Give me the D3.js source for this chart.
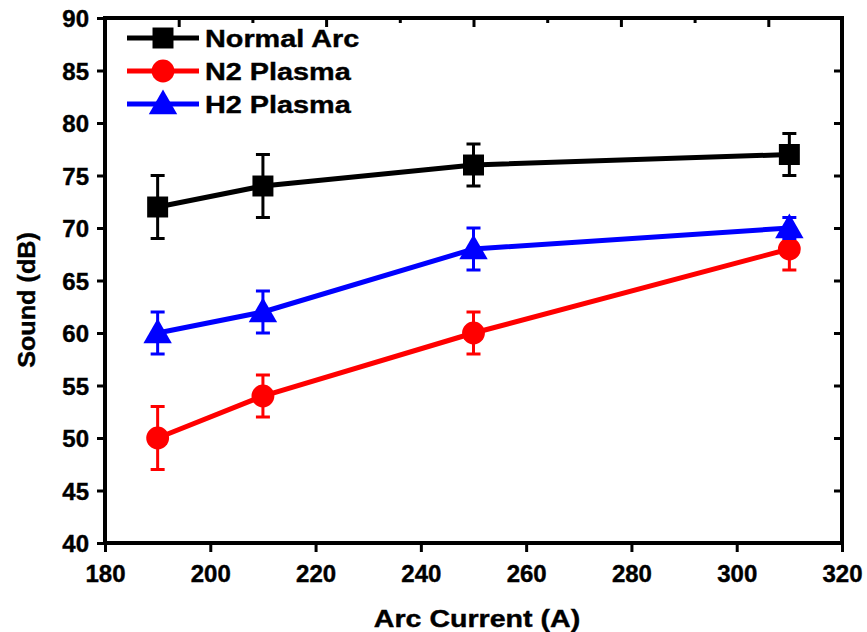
<!DOCTYPE html>
<html>
<head>
<meta charset="utf-8">
<script src="https://cdn.jsdelivr.net/npm/d3@7"></script>
<style>
  body { margin: 0; background: #fff; }
  text { font-family: Arial, "Liberation Sans", sans-serif; font-weight: bold; stroke: #000; stroke-width: 0.4px; }
</style>
</head>
<body>
<svg width="867" height="632"></svg>
<script>
let width = 867;
let height = 632;

// data
let currents = [190, 210, 250, 310];
let normalArc = [72, 74, 76, 77];
let normalArcErr = [3, 3, 2, 2];
let n2Plasma = [50, 54, 60, 68];
let n2PlasmaErr = [3, 2, 2, 2];
let h2Plasma = [60, 62, 68, 70];
let h2PlasmaErr = [2, 2, 2, 1];
let xTicks = [180, 200, 220, 240, 260, 280, 300, 320];
let yTicks = [40, 45, 50, 55, 60, 65, 70, 75, 80, 85, 90];

let series = [
  { name: 'Normal Arc', values: normalArc, err: normalArcErr, color: '#000000', shape: 'square' },
  { name: 'N2 Plasma', values: n2Plasma, err: n2PlasmaErr, color: '#ff0000', shape: 'circle' },
  { name: 'H2 Plasma', values: h2Plasma, err: h2PlasmaErr, color: '#0000ff', shape: 'triangle' },
];

let pLeft = 105, pRight = 842, pTop = 18, pBottom = 543;

let x = d3.scaleLinear().domain([180, 320]).range([pLeft, pRight]);
let y = d3.scaleLinear().domain([40, 90]).range([pBottom, pTop]);
// the top frame carries its own tick spacing
let xTop = d3.scaleLinear().domain([0, 10]).range([pLeft, pRight]);

let svg = d3.select('svg');

function symbolFor(shape) {
  if (shape === 'square') return d3.symbol().type(d3.symbolSquare).size(440);
  if (shape === 'circle') return d3.symbol().type(d3.symbolCircle).size(410);
  return d3.symbol().type(d3.symbolTriangle).size(350);
}

// stretch glyphs sideways, the original text is wider than plain Arial
function widen(sel, k) {
  sel.each(function() {
    let w = this.getComputedTextLength();
    d3.select(this).attr('textLength', w * k).attr('lengthAdjust', 'spacingAndGlyphs');
  });
}

// series
let line = d3.line().x((d, i) => x(currents[i])).y(d => y(d));

series.forEach(s => {
  let g = svg.append('g').attr('class', 'series');
  g.append('path')
    .attr('d', line(s.values))
    .attr('fill', 'none')
    .attr('stroke', s.color)
    .attr('stroke-width', 5)
    ;
  let pts = currents.map((c, i) => ({ c: c, v: s.values[i], e: s.err[i] }));
  g.selectAll('.err')
    .data(pts)
    .enter()
      .append('path')
      .attr('class', 'err')
      .attr('fill', 'none')
      .attr('stroke', s.color)
      .attr('stroke-width', 3)
      .attr('d', d => {
        let cx = x(d.c), y1 = y(d.v + d.e), y2 = y(d.v - d.e);
        return `M${cx},${y1}V${y2}M${cx - 7},${y1}H${cx + 7}M${cx - 7},${y2}H${cx + 7}`;
      })
    ;
  g.selectAll('.mark')
    .data(pts)
    .enter()
      .append('path')
      .attr('class', 'mark')
      .attr('fill', s.color)
      .attr('d', symbolFor(s.shape))
      .attr('transform', d => `translate(${x(d.c)},${y(d.v) + (s.shape === 'triangle' ? 2 : 0)})`)
    ;
});

// frame and axes
let axisStyle = g => {
  g.select('.domain').remove();
  g.selectAll('line').attr('stroke', '#000').attr('stroke-width', 3);
  g.selectAll('text').attr('fill', '#000').style('font-size', '24px');
};

svg.append('g')
  .attr('transform', `translate(0,${pBottom})`)
  .call(d3.axisBottom(x).tickValues(xTicks).tickSize(9).tickPadding(13))
  .call(axisStyle)
  ;
svg.append('g')
  .attr('transform', `translate(${pLeft},0)`)
  .call(d3.axisLeft(y).tickValues(yTicks).tickSize(8).tickPadding(8))
  .call(axisStyle)
  .call(g => g.selectAll('text').attr('dy', '0.36em'))
  ;
svg.append('g')
  .attr('transform', `translate(${pRight},0)`)
  .call(d3.axisRight(y).tickValues(yTicks).tickSize(-8).tickFormat(''))
  .call(axisStyle)
  ;
svg.append('g')
  .attr('transform', `translate(0,${pTop})`)
  .call(d3.axisTop(xTop).ticks(10).tickSize(-6).tickFormat(''))
  .call(axisStyle)
  .call(g => g.selectAll('.tick line').attr('y2', (d, i) => i % 2 ? 9 : 5))
  ;

svg.append('rect')
  .attr('x', pLeft)
  .attr('y', pTop)
  .attr('width', pRight - pLeft)
  .attr('height', pBottom - pTop)
  .attr('fill', 'none')
  .attr('stroke', '#000')
  .attr('stroke-width', 4)
  ;

// axis titles
svg.append('text')
  .attr('x', 477)
  .attr('y', 627)
  .attr('text-anchor', 'middle')
  .style('font-size', '24px')
  .text('Arc Current (A)')
  .call(widen, 1.19)
  ;
svg.append('text')
  .attr('transform', 'translate(35,300) rotate(-90)')
  .attr('text-anchor', 'middle')
  .style('font-size', '24px')
  .text('Sound (dB)')
  .call(widen, 1.05)
  ;

// legend
let legend = svg.append('g')
  .selectAll('g')
  .data(series)
  .enter()
    .append('g')
    .attr('transform', (d, i) => `translate(127,${38 + i * 33})`)
  ;
legend.append('line')
  .attr('x1', 0).attr('x2', 72)
  .attr('stroke', d => d.color)
  .attr('stroke-width', 5)
  ;
legend.append('path')
  .attr('fill', d => d.color)
  .attr('d', d => symbolFor(d.shape)())
  .attr('transform', d => `translate(36,${d.shape === 'triangle' ? 2 : 0})`)
  ;
legend.append('text')
  .attr('x', 78)
  .attr('dy', '0.36em')
  .style('font-size', '24px')
  .text(d => d.name)
  .call(widen, 1.2)
  ;
</script>
</body>
</html>
